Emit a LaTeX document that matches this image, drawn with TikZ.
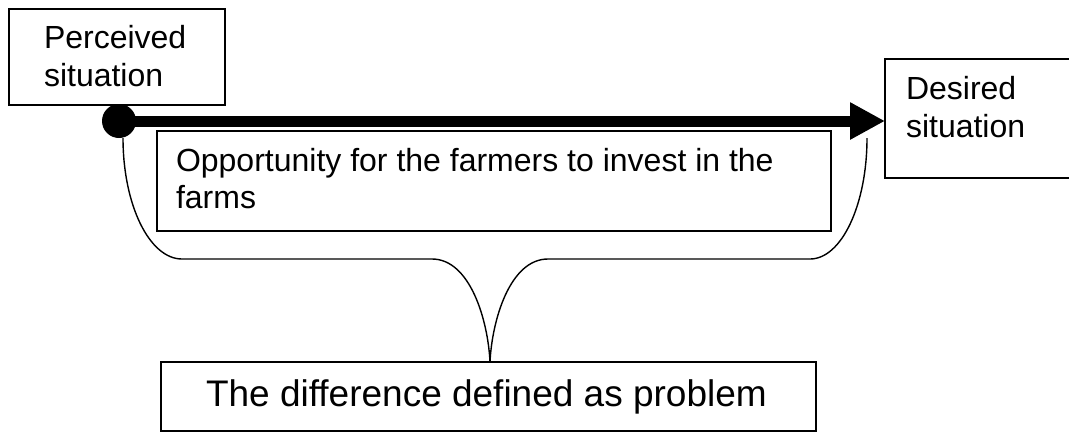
\documentclass[tikz,border=0pt]{standalone}
\usepackage{fontspec}
\setmainfont{Liberation Sans}
\usetikzlibrary{arrows.meta}
\begin{document}
\begin{tikzpicture}[x=1pt,y=-1pt,
  box/.style={draw=black,line width=1.6pt,fill=white,inner sep=0pt,outer sep=0pt,anchor=north west},
  txt/.style={inner sep=0pt,outer sep=0pt,anchor=base west,font=\fontsize{32}{37}\selectfont},
  bigtxt/.style={inner sep=0pt,outer sep=0pt,anchor=base west,font=\fontsize{37}{42}\selectfont},
  brace/.style={draw=black,line width=1.4pt},
  mainarrow/.style={draw=black,line width=11pt,-{Triangle[length=35pt,width=35pt]}}]
\useasboundingbox (0,0) rectangle (1069,432);
% boxes
\node[box,minimum width=216pt,minimum height=96pt] (perc) at (9,9) {};
\node[box,minimum width=195pt,minimum height=119pt] (des) at (885,59) {};
\node[box,minimum width=674pt,minimum height=100pt] (opp) at (157,131) {};
\node[box,minimum width=655pt,minimum height=69pt] (prob) at (161,362) {};
% texts
\node[txt] (perc1) at (44,48) {Perceived};
\node[txt] (perc2) at (44,86) {situation};
\node[txt] (des1) at (906,99) {Desired};
\node[txt] (des2) at (906,137) {situation};
\node[txt] (opp1) at (176,171) {Opportunity for the farmers to invest in the};
\node[txt] (opp2) at (176,208) {farms};
\node[bigtxt] (prob1) at (206,406) {The difference defined as problem};
% dot and arrow
\node[circle,fill=black,inner sep=0pt,minimum size=34pt] (dot) at (119,121) {};
\draw[mainarrow] (dot.center) -- (des.west |- dot.center);
% brace
\coordinate (bl) at (123,138);
\coordinate (br) at (867,138);
\draw[brace] (bl) arc[start angle=180,end angle=90,x radius=59,y radius=121]
  -- (432,259) .. controls (470,259) and (488,320) .. (prob.north -| 490,0);
\draw[brace] (br) arc[start angle=0,end angle=90,x radius=57,y radius=121]
  -- (548,259) .. controls (510,259) and (492,320) .. (prob.north -| 490,0);
\end{tikzpicture}
\end{document}
